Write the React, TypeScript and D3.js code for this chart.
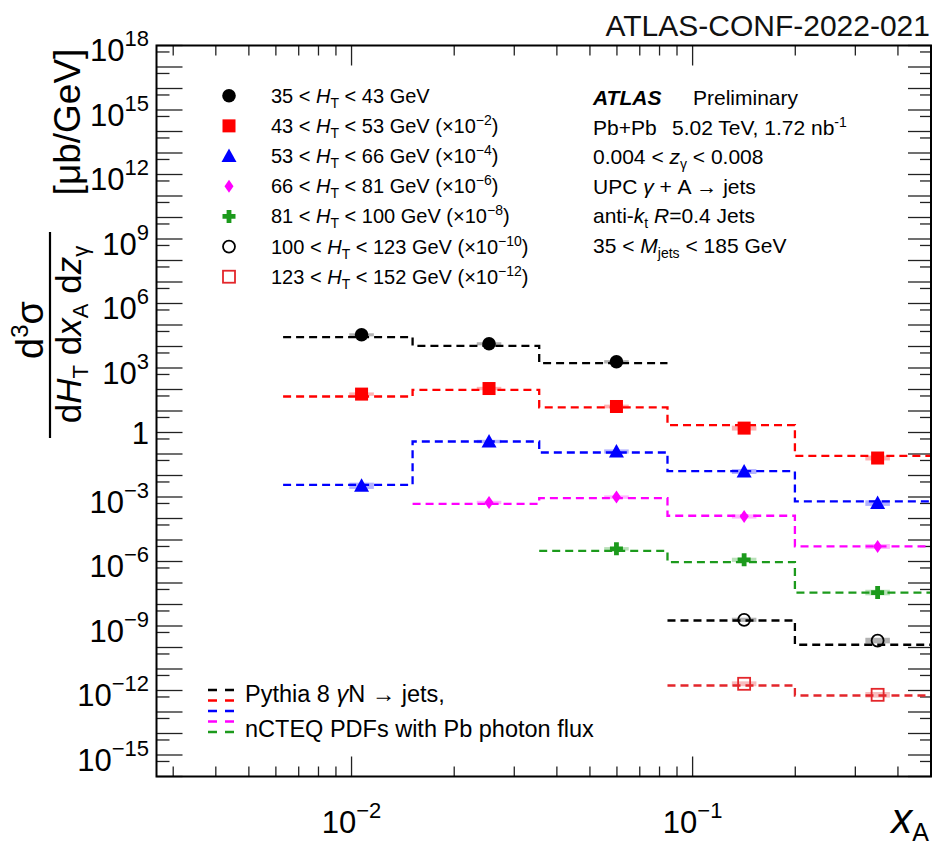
import React from 'react';
import * as d3 from 'd3';

// ---------- data ----------
const binEdges = [0.0063, 0.0151, 0.0355, 0.0844, 0.1995, 0.5];
const pointX = [0.0107, 0.0253, 0.0598, 0.1416, 0.3487];

const htLow = [35, 43, 53, 66, 81, 100, 123];
const htHigh = [43, 53, 66, 81, 100, 123, 152];
const scaleExp = [0, -2, -4, -6, -8, -10, -12];
const seriesColors = ['#000000', '#ff0000', '#0000ff', '#ff00ff', '#1c9a1c', '#000000', '#e3262b'];
const markerShapes = ['circle', 'square', 'triangle', 'diamond', 'cross', 'openCircle', 'openSquare'];

// measured cross sections (unscaled), null = bin not measured
const data35 = [35000, 13400, 1940, null, null];
const data43 = [6110, 11100, 1620, 160, 6.5];
const data53 = [33.2, 3810, 1310, 153, 5.2];
const data66 = [null, 555, 990, 124, 5.0];
const data81 = [null, null, 390, 120, 3.6];
const data100 = [null, null, null, 19.4, 2.1];
const data123 = [null, null, null, 2.05, 0.63];

// Pythia 8 predictions (unscaled)
const mc35 = [27400, 10800, 1690, null, null];
const mc43 = [4720, 9680, 1460, 219, 8.2];
const mc53 = [36.9, 3810, 1175, 160, 6.2];
const mc66 = [null, 483, 889, 134, 5.0];
const mc81 = [null, null, 315, 94, 3.6];
const mc100 = [null, null, null, 18.0, 1.34];
const mc123 = [null, null, null, 1.71, 0.585];

// relative systematic uncertainties
const sys35 = [0.18, 0.18, 0.2, null, null];
const sys43 = [0.2, 0.2, 0.22, 0.3, 0.3];
const sys53 = [0.4, 0.2, 0.25, 0.3, 0.35];
const sys66 = [null, 0.2, 0.2, 0.25, 0.3];
const sys81 = [null, null, 0.2, 0.25, 0.35];
const sys100 = [null, null, null, 0.25, 0.35];
const sys123 = [null, null, null, 0.3, 0.35];

const allData = [data35, data43, data53, data66, data81, data100, data123];
const allMc = [mc35, mc43, mc53, mc66, mc81, mc100, mc123];
const allSys = [sys35, sys43, sys53, sys66, sys81, sys100, sys123];

const yLabelExps = [18, 15, 12, 9, 6, 3, 0, -3, -6, -9, -12, -15];
const xLabelExps = [-2, -1];

const infoLines = ['Pb+Pb', '5.02 TeV, 1.72 nb', '0.004 < ', ' < 0.008', 'UPC ', ' + A \u2192 jets', 'anti-', '=0.4 Jets', '35 < ', ' < 185 GeV'];

// ---------- layout ----------
const W = 935;
const H = 846;
const FL = 156.5, FR = 931, FT = 45.5, FB = 776.5;
const FONT = "'Liberation Sans', Arial, Helvetica, sans-serif";

const x = d3.scaleLog().domain([0.00268, 0.5]).range([FL, FR]);
const y = d3.scaleLog().domain([1e-16, 1e18]).range([FB, FT]);

function Marker({ shape, cx, cy, color }: { shape: string; cx: number; cy: number; color: string }) {
  switch (shape) {
    case 'circle':
      return <circle cx={cx} cy={cy} r={6.8} fill={color} />;
    case 'square':
      return <rect x={cx - 6.5} y={cy - 6.5} width={13} height={13} fill={color} />;
    case 'triangle':
      return <path d={`M${cx},${cy - 7.5}L${cx + 7.5},${cy + 6}L${cx - 7.5},${cy + 6}Z`} fill={color} />;
    case 'diamond':
      return <path d={`M${cx},${cy - 6.5}L${cx + 4.5},${cy}L${cx},${cy + 6.5}L${cx - 4.5},${cy}Z`} fill={color} />;
    case 'cross': {
      const a = 6.5, t = 2.4;
      return (
        <path
          d={`M${cx - t},${cy - a}H${cx + t}V${cy - t}H${cx + a}V${cy + t}H${cx + t}V${cy + a}H${cx - t}V${cy + t}H${cx - a}V${cy - t}H${cx - t}Z`}
          fill={color}
        />
      );
    }
    case 'openCircle':
      return <circle cx={cx} cy={cy} r={6} fill="none" stroke={color} strokeWidth={1.8} />;
    case 'openSquare':
      return <rect x={cx - 6} y={cy - 6} width={12} height={12} fill="none" stroke={color} strokeWidth={1.8} />;
    default:
      return null;
  }
}

function mcPath(vals: (number | null)[], scale: number): string {
  const pts: [number, number][] = [];
  vals.forEach((v, i) => {
    if (v == null) return;
    pts.push([binEdges[i], v * scale]);
    pts.push([binEdges[i + 1], v * scale]);
  });
  const line = d3.line<[number, number]>().x(d => x(d[0])).y(d => y(d[1]));
  return line(pts) || '';
}

export default function App() {
  const xMajor = [0.01, 0.1];
  const xMinor: number[] = [];
  for (let e = -3; e <= -1; e++) for (let k = 2; k <= 9; k++) {
    const v = k * Math.pow(10, e);
    if (v >= 0.00268 && v <= 0.5) xMinor.push(v);
  }
  const yMajor: number[] = [];
  const yMinor: number[] = [];
  for (let e = -16; e <= 18; e++) {
    yMajor.push(Math.pow(10, e));
    if (e > -16) yMinor.push(5 * Math.pow(10, e - 1));
  }

  const legendY = (i: number) => 95.7 + 30.17 * i;
  const infoY = (i: number) => 105 + 29.6 * i;
  const boxHalf = 0.036;

  return (
    <svg width={W} height={H} style={{ position: 'absolute', left: 0, top: 0, background: '#fff' }} fontFamily={FONT}>
      <rect x={0} y={0} width={W} height={H} fill="#fff" />
      <defs>
        <clipPath id="frameClip">
          <rect x={FL} y={FT} width={FR - FL} height={FB - FT} />
        </clipPath>
      </defs>

      {/* header */}
      <text x={930} y={36} fontSize={30} textAnchor="end" fill="#111">ATLAS-CONF-2022-021</text>

      {/* ticks */}
      <g stroke="#222" strokeWidth={1.3}>
        {xMajor.map(v => (
          <g key={'xM' + v}>
            <line x1={x(v)} x2={x(v)} y1={FB} y2={FB - 20} />
            <line x1={x(v)} x2={x(v)} y1={FT} y2={FT + 20} />
          </g>
        ))}
        {xMinor.map(v => (
          <g key={'xm' + v}>
            <line x1={x(v)} x2={x(v)} y1={FB} y2={FB - 10} />
            <line x1={x(v)} x2={x(v)} y1={FT} y2={FT + 10} />
          </g>
        ))}
        {yMajor.map(v => (
          <g key={'yM' + v}>
            <line x1={FL} x2={FL + 26} y1={y(v)} y2={y(v)} />
            <line x1={FR} x2={FR - 23} y1={y(v)} y2={y(v)} />
          </g>
        ))}
        {yMinor.map(v => (
          <g key={'ym' + v}>
            <line x1={FL} x2={FL + 13} y1={y(v)} y2={y(v)} />
            <line x1={FR} x2={FR - 11} y1={y(v)} y2={y(v)} />
          </g>
        ))}
      </g>

      {/* y tick labels */}
      {yLabelExps.map(e => {
        const yy = y(Math.pow(10, e));
        if (e === 0) {
          return <text key={'yl' + e} x={149} y={yy + 11} fontSize={31} textAnchor="end">1</text>;
        }
        return (
          <text key={'yl' + e} x={149} y={yy + 15.5} fontSize={31} textAnchor="end">
            10<tspan fontSize={22} dy={-15}>{e < 0 ? '\u2212' + -e : String(e)}</tspan>
          </text>
        );
      })}

      {/* x tick labels */}
      {xLabelExps.map(e => (
        <text key={'xl' + e} x={x(Math.pow(10, e))} y={833} fontSize={31} textAnchor="middle">
          10<tspan fontSize={22} dy={-15}>{'\u2212' + -e}</tspan>
        </text>
      ))}

      {/* x axis title */}
      <text x={929} y={833} fontSize={42} textAnchor="end">
        <tspan fontStyle="italic">x</tspan>
        <tspan fontSize={25} dy={8}>A</tspan>
      </text>

      {/* y axis title */}
      <text transform="translate(43,330) rotate(-90)" fontSize={38} textAnchor="middle">
        d<tspan fontSize={24} dy={-15}>3</tspan><tspan dy={15}>σ</tspan>
      </text>
      <line x1={50} x2={50} y1={232} y2={438} stroke="#000" strokeWidth={2.2} />
      <text transform="translate(81,334.5) rotate(-90)" fontSize={35} textAnchor="middle">
        d<tspan fontStyle="italic">H</tspan><tspan fontSize={22} dy={7}>T</tspan>
        <tspan dy={-7}>{' d'}</tspan><tspan fontStyle="italic">x</tspan><tspan fontSize={22} dy={7}>A</tspan>
        <tspan dy={-7}>{' d'}</tspan><tspan fontStyle="italic">z</tspan><tspan fontSize={22} dy={7}>γ</tspan>
      </text>
      <text transform="translate(80,122) rotate(-90)" fontSize={37} textAnchor="middle">[μb/GeV]</text>

      {/* plot content */}
      <g clipPath="url(#frameClip)">
        {allMc.map((vals, s) => (
          <path
            key={'mc' + s}
            d={mcPath(vals, Math.pow(10, scaleExp[s]))}
            fill="none"
            stroke={seriesColors[s]}
            strokeWidth={2.3}
            strokeDasharray="8 5"
          />
        ))}
        {allData.map((vals, s) =>
          vals.map((v, i) => {
            if (v == null) return null;
            const sc = Math.pow(10, scaleExp[s]);
            const e = allSys[s][i] || 0.2;
            const x0 = x(pointX[i] / Math.pow(10, boxHalf));
            const x1 = x(pointX[i] * Math.pow(10, boxHalf));
            const y0 = y(v * sc * (1 + e));
            const y1 = y(v * sc / (1 + e));
            return (
              <rect key={'sys' + s + '_' + i} x={x0} y={y0} width={x1 - x0} height={Math.max(2.5, y1 - y0)}
                fill={seriesColors[s]} fillOpacity={0.3} />
            );
          })
        )}
        {allData.map((vals, s) =>
          vals.map((v, i) =>
            v == null ? null : (
              <Marker key={'m' + s + '_' + i} shape={markerShapes[s]} cx={x(pointX[i])}
                cy={y(v * Math.pow(10, scaleExp[s]))} color={seriesColors[s]} />
            )
          )
        )}
      </g>

      {/* frame */}
      <rect x={FL} y={FT} width={FR - FL} height={FB - FT} fill="none" stroke="#000" strokeWidth={2} />

      {/* marker legend */}
      {htLow.map((lo, i) => {
        const cy = legendY(i);
        return (
          <g key={'leg' + i}>
            <Marker shape={markerShapes[i]} cx={229} cy={cy} color={seriesColors[i]} />
            <text x={271} y={cy + 7} fontSize={20}>
              {`${lo} < `}
              <tspan fontStyle="italic">H</tspan>
              <tspan fontSize={14} dy={5}>T</tspan>
              <tspan dy={-5}>{` < ${htHigh[i]} GeV`}</tspan>
              {scaleExp[i] !== 0 ? <tspan>{' (\u00d710'}</tspan> : null}
              {scaleExp[i] !== 0 ? <tspan fontSize={14} dy={-8}>{'\u2212' + -scaleExp[i]}</tspan> : null}
              {scaleExp[i] !== 0 ? <tspan dy={8}>)</tspan> : null}
            </text>
          </g>
        );
      })}

      {/* info block */}
      <g fontSize={21}>
        <text x={593} y={infoY(0)} fontWeight="bold" fontStyle="italic">ATLAS</text>
        <text x={693} y={infoY(0)}>Preliminary</text>
        <text x={593} y={infoY(1)}>{infoLines[0]}</text>
        <text x={672} y={infoY(1)}>
          {infoLines[1]}<tspan fontSize={14} dy={-8}>-1</tspan>
        </text>
        <text x={593} y={infoY(2)}>
          {infoLines[2]}<tspan fontStyle="italic">z</tspan><tspan fontSize={14} dy={5}>γ</tspan>
          <tspan dy={-5}>{infoLines[3]}</tspan>
        </text>
        <text x={593} y={infoY(3)}>
          {infoLines[4]}<tspan fontStyle="italic">γ</tspan><tspan>{infoLines[5]}</tspan>
        </text>
        <text x={593} y={infoY(4)}>
          {infoLines[6]}<tspan fontStyle="italic">k</tspan><tspan fontSize={14} dy={5}>t</tspan>
          <tspan dy={-5}>{' '}</tspan><tspan fontStyle="italic">R</tspan><tspan>{infoLines[7]}</tspan>
        </text>
        <text x={593} y={infoY(5)}>
          {infoLines[8]}<tspan fontStyle="italic">M</tspan><tspan fontSize={14} dy={5}>jets</tspan>
          <tspan dy={-5}>{infoLines[9]}</tspan>
        </text>
      </g>

      {/* MC legend */}
      {seriesColors.slice(0, 5).map((c, i) => (
        <line key={'mcl' + i} x1={208} x2={234} y1={690 + 10.5 * i} y2={690 + 10.5 * i}
          stroke={c} strokeWidth={2.5} strokeDasharray="9 8" />
      ))}
      <text x={245} y={701.7} fontSize={23.5}>
        {'Pythia 8 '}<tspan fontStyle="italic">γ</tspan><tspan>{'N \u2192 jets,'}</tspan>
      </text>
      <text x={245} y={736.7} fontSize={23.5}>nCTEQ PDFs with Pb photon flux</text>
    </svg>
  );
}
